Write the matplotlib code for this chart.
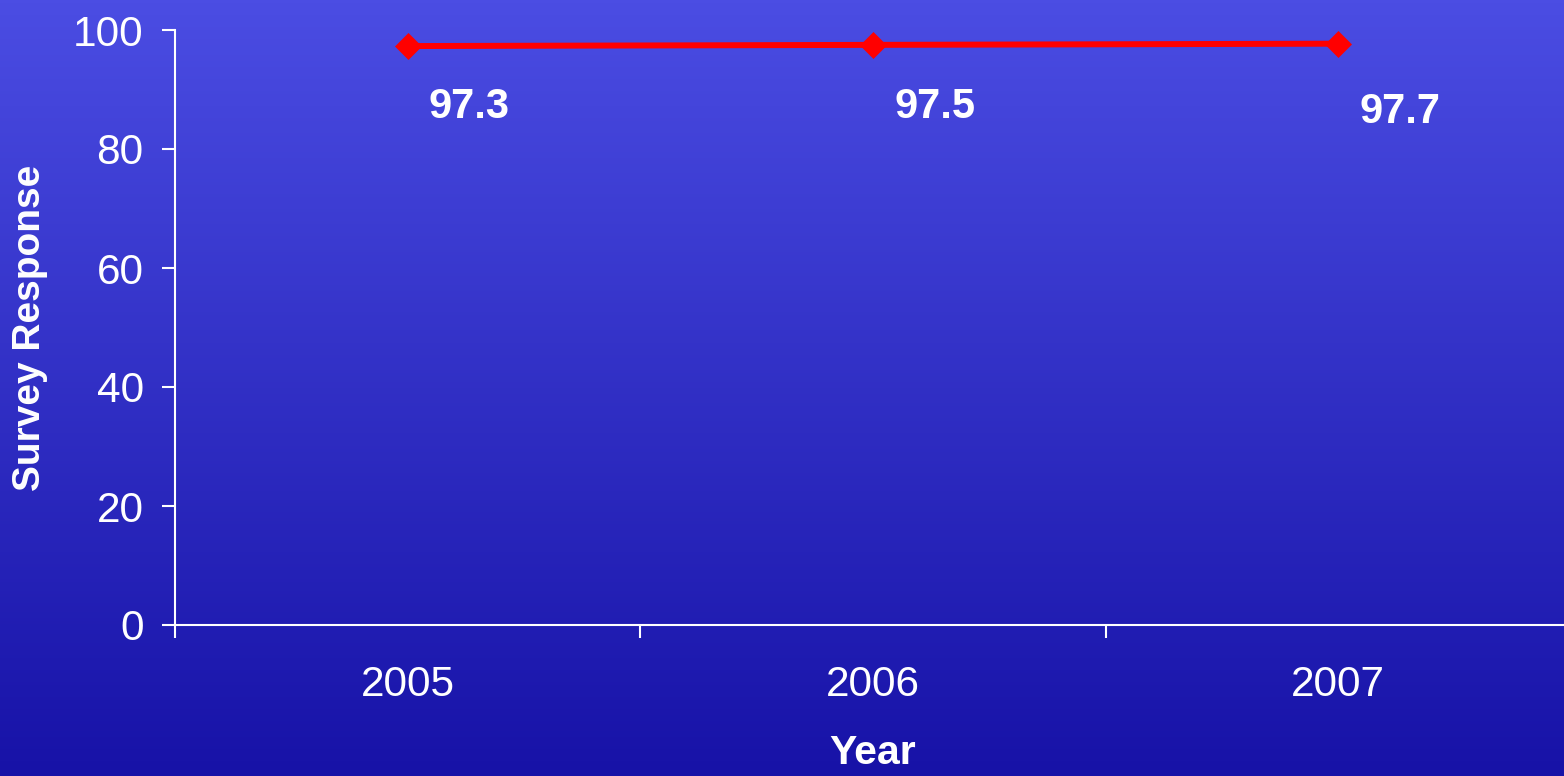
import numpy as np
import matplotlib
matplotlib.use('Agg')
import matplotlib.pyplot as plt
from matplotlib.colors import LinearSegmentedColormap

years = ['2005', '2006', '2007']
responses = [97.3, 97.5, 97.7]
label_dy = [-44, -45, -49]  # vertical offset of each value label, points

plt.rcParams['font.family'] = ['Liberation Sans', 'DejaVu Sans']

fig = plt.figure(figsize=(15.64, 7.76), dpi=100)

# blue vertical gradient behind everything
bg = fig.add_axes([0, 0, 1, 1], zorder=0)
grad = LinearSegmentedColormap.from_list('bg', ['#4b4de3', '#1712a7'])
bg.imshow(np.linspace(0, 1, 256).reshape(-1, 1), aspect='auto', cmap=grad,
          extent=[0, 1, 0, 1])
bg.set_axis_off()

ax = fig.add_axes([175 / 1564, 151 / 776, 1396 / 1564, 595 / 776], zorder=1)
ax.patch.set_alpha(0)

x = np.arange(len(years))
ax.plot(x, responses, color='#ff0000', lw=4.3, marker='D', ms=13,
        mec='#ff0000', mew=0.5, clip_on=False)

for xi, v, dy in zip(x, responses, label_dy):
    ax.annotate(f'{v}', (xi, v), xytext=(44.5, dy), textcoords='offset points',
                ha='center', va='center', color='white', fontsize=30,
                fontweight='bold')

ax.set_xlim(-0.5, 2.5)
ax.set_ylim(0, 100)
ax.set_yticks(range(0, 101, 20))
ax.set_xticks(x)
ax.set_xticklabels(years)
ax.set_xticks(np.arange(-0.5, 3, 1), minor=True)

for side in ['top', 'right']:
    ax.spines[side].set_visible(False)
for side in ['left', 'bottom']:
    ax.spines[side].set_color('white')
    ax.spines[side].set_linewidth(1.5)

ax.tick_params(axis='y', colors='white', labelsize=30.5, length=9.5, width=1.5,
               pad=13)
ax.tick_params(axis='x', which='major', colors='white', labelsize=30.5,
               length=0, pad=29)
ax.tick_params(axis='x', which='minor', colors='white', length=9, width=1.5)

ax.set_ylabel('Survey Response', color='white', fontsize=28,
              fontweight='bold', labelpad=18)
ax.set_xlabel('Year', color='white', fontsize=29.5, fontweight='bold',
              labelpad=21)

fig.savefig('out.png', dpi=100)
